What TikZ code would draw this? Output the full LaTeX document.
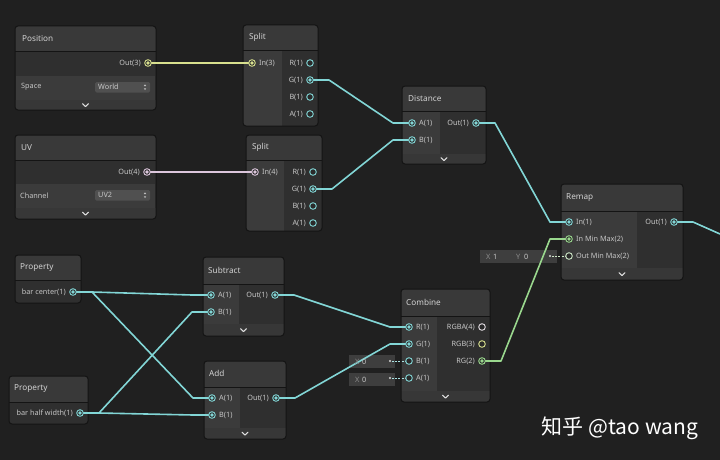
\documentclass[tikz,border=0pt]{standalone}
\usepackage{fontspec}
\setmainfont{Noto Sans}
\newfontfamily\cjkfont{Noto Sans CJK SC}
\usetikzlibrary{fit}
\pgfdeclarelayer{bg}
\pgfdeclarelayer{wire}
\pgfsetlayers{bg,wire,main}
\definecolor{bgc}{HTML}{202020}
\definecolor{hdr}{HTML}{393939}
\definecolor{inar}{HTML}{3B3B3B}
\definecolor{outar}{HTML}{2F2F2F}
\definecolor{chevc}{HTML}{373737}
\definecolor{edge}{HTML}{141414}
\definecolor{txt}{HTML}{C6C6C6}
\definecolor{ttlc}{HTML}{D2D2D2}
\definecolor{portbg}{HTML}{2A2A2A}
\definecolor{fldc}{HTML}{3E3E3E}
\definecolor{ddc}{HTML}{505050}
\definecolor{wteal}{HTML}{82D6D6}
\definecolor{wyel}{HTML}{D8E08E}
\definecolor{wpink}{HTML}{DCC6DC}
\definecolor{wgreen}{HTML}{9AD88E}
\definecolor{pwhite}{HTML}{E2DCE2}
\definecolor{pgw}{HTML}{CDE6C6}
\tikzset{
  lbl/.style={text=txt, font=\fontsize{7.3}{8}\selectfont, inner sep=0},
  ttl/.style={text=ttlc, font=\fontsize{8.2}{9}\selectfont, inner sep=0, anchor=west},
  port/.style={circle, draw=#1, fill=portbg, line width=0.9pt, minimum size=6.6pt, inner sep=0},
  full/.style={path picture={\fill[#1] (path picture bounding box.center) circle (1.8pt);}},
  hollow/.style={},
  wire/.style={draw=#1, line width=1.6pt, line join=round},
  sg/.style={to path={-- ++(19,0) -- ([xshift=-19pt]\tikztotarget) -- (\tikztotarget)}},
  chevline/.style={draw=white!88!black, line width=1.1pt, line cap=round, line join=round},
}
\newcommand{\sgnode}[8]{%
  \begin{pgfonlayer}{bg}
    \begin{scope}
      \clip[rounded corners=3pt] (#2,#3) rectangle (#4,#5);
      \fill[hdr] (#2,#3) rectangle (#4,#6);
      \fill[inar] (#2,#6) rectangle (#7,#8);
      \fill[outar] (#7,#6) rectangle (#4,#8);
      \fill[chevc] (#2,#8) rectangle (#4,#5);
      \draw[edge, line width=0.6pt] (#2,#6) -- (#4,#6);
    \end{scope}
    \node[draw=edge, line width=1pt, rounded corners=3pt, inner sep=0, fit={(#2,#3) (#4,#5)}] (#1) {};
  \end{pgfonlayer}}
\newcommand{\rowfill}[4]{\begin{pgfonlayer}{bg}\fill[inar] (#1,#2) rectangle (#3,#4);\end{pgfonlayer}}
\newcommand{\chev}[2]{\draw[chevline] (#1-3,#2-1.3) -- (#1,#2+1.5) -- (#1+3,#2-1.3);}
\newcommand{\ip}[6]{\node[port=#4, #5=#4] (#1) at (#2,#3) {}; \node[lbl, anchor=west] (#1-l) at (#2+7,#3) {#6};}
\newcommand{\op}[6]{\node[port=#4, #5=#4] (#1) at (#2,#3) {}; \node[lbl, anchor=east] (#1-l) at (#2-7,#3) {#6};}
\newcommand{\ddarrows}[2]{\fill[txt] (#1-1.2,#2-1.2) -- (#1+1.2,#2-1.2) -- (#1,#2-2.8) -- cycle; \fill[txt] (#1-1.2,#2+1.2) -- (#1+1.2,#2+1.2) -- (#1,#2+2.8) -- cycle;}
\begin{document}
\begin{tikzpicture}[x=1pt, y=-1pt]
\begin{pgfonlayer}{bg}
  \fill[bgc] (0,0) rectangle (720,460);
\end{pgfonlayer}
\useasboundingbox (0,0) rectangle (720,460);

% ---------- Position ----------
\sgnode{pos}{15}{26}{156}{110}{51}{15}{100}
\rowfill{15.6}{76}{155.4}{100}
\node[ttl] (posT) at (22,38.5) {Position};
\op{posOut}{148}{63}{wyel}{full}{Out(3)}
\node[lbl, anchor=west] (posSp) at (21,87) {Space};
\begin{pgfonlayer}{bg}\fill[ddc, rounded corners=1.5pt] (95,82) rectangle (150,92.5);\end{pgfonlayer}
\node[lbl, anchor=west] (posDd) at (98,87.2) {World};
\ddarrows{145}{87.2}
\chev{85.5}{105}

% ---------- UV ----------
\sgnode{uv}{15}{135}{156}{219}{160}{15}{208}
\rowfill{15.6}{184}{155.4}{208}
\node[ttl] (uvT) at (21,147.5) {UV};
\op{uvOut}{147}{172}{wpink}{full}{Out(4)}
\node[lbl, anchor=west] (uvCh) at (20,195.5) {Channel};
\begin{pgfonlayer}{bg}\fill[ddc, rounded corners=1.5pt] (95,190) rectangle (150,200.5);\end{pgfonlayer}
\node[lbl, anchor=west] (uvDd) at (98,195.2) {UV2};
\ddarrows{145}{195.2}
\chev{85.5}{213.5}

% ---------- Split 1 ----------
\sgnode{spa}{243}{25}{318}{126}{50}{282}{126}
\node[ttl] (spaT) at (249,37.5) {Split};
\ip{spaIn}{252}{63}{wyel}{full}{In(3)}
\op{spaR}{310}{63}{wteal}{hollow}{R(1)}
\op{spaG}{310}{80}{wteal}{full}{G(1)}
\op{spaB}{310}{97}{wteal}{hollow}{B(1)}
\op{spaA}{310}{114}{wteal}{hollow}{A(1)}

% ---------- Split 2 ----------
\sgnode{spb}{246}{135}{322}{231}{160}{284}{231}
\node[ttl] (spbT) at (252,147.5) {Split};
\ip{spbIn}{255}{172}{wpink}{full}{In(4)}
\op{spbR}{313}{172}{wteal}{hollow}{R(1)}
\op{spbG}{313}{189}{wteal}{full}{G(1)}
\op{spbB}{313}{206}{wteal}{hollow}{B(1)}
\op{spbA}{313}{223}{wteal}{hollow}{A(1)}

% ---------- Distance ----------
\sgnode{dist}{402}{86}{486}{164}{111}{440}{154}
\node[ttl] (distT) at (408,98.5) {Distance};
\ip{distA}{412}{123}{wteal}{full}{A(1)}
\ip{distB}{412}{140}{wteal}{full}{B(1)}
\op{distOut}{476}{123}{wteal}{full}{Out(1)}
\chev{444}{159}

% ---------- Remap ----------
\sgnode{rmp}{561}{184}{683}{280}{211}{637}{268}
\node[ttl] (rmpT) at (566,197.5) {Remap};
\ip{rmpIn}{569}{222}{wteal}{full}{In(1)}
\ip{rmpIMM}{569}{239}{wgreen}{full}{In Min Max(2)}
\ip{rmpOMM}{569}{256}{pgw}{hollow}{Out Min Max(2)}
\op{rmpOut}{674}{222}{wteal}{full}{Out(1)}
\chev{622}{274}
\begin{pgfonlayer}{bg}\fill[fldc] (480,250) rectangle (557,263);\end{pgfonlayer}
\node[lbl, text=txt!70!black, anchor=west] (rfX) at (486,256.5) {X};
\node[lbl, anchor=west] (rf1) at (493,256.5) {1};
\node[lbl, text=txt!70!black, anchor=west] (rfY) at (516,256.5) {Y};
\node[lbl, anchor=west] (rf0) at (524,256.5) {0};
\coordinate (rfDot) at (550,256);
\fill[white!85!black] (rfDot) circle (1.2pt);
\begin{pgfonlayer}{wire}
  \draw[pgw, line width=0.8pt, dash pattern=on 2pt off 1.2pt] ([xshift=2pt]rfDot) -- (rmpOMM.west);
\end{pgfonlayer}
\coordinate (offR) at (720,234);

% ---------- Property 1 ----------
\sgnode{pr1}{15}{255}{81}{303}{280}{15}{303}
\node[ttl] (pr1T) at (20,267.5) {Property};
\op{pr1Out}{73}{292}{wteal}{full}{bar center(1)}

% ---------- Property 2 ----------
\sgnode{pr2}{9}{376}{88}{424}{402}{9}{424}
\node[ttl] (pr2T) at (14,389) {Property};
\op{pr2Out}{80}{413}{wteal}{full}{bar half width(1)}

% ---------- Subtract ----------
\sgnode{sub}{203}{257}{284}{336}{284}{239}{324}
\node[ttl] (subT) at (208,270.5) {Subtract};
\ip{subA}{211}{295}{wteal}{full}{A(1)}
\ip{subB}{211}{312}{wteal}{full}{B(1)}
\op{subOut}{275}{295}{wteal}{full}{Out(1)}
\chev{243.5}{330}

% ---------- Add ----------
\sgnode{add}{204}{361}{286}{439}{387}{240}{428}
\node[ttl] (addT) at (209,373.5) {Add};
\ip{addA}{212}{398}{wteal}{full}{A(1)}
\ip{addB}{212}{415}{wteal}{full}{B(1)}
\op{addOut}{276}{398}{wteal}{full}{Out(1)}
\chev{245}{433.5}

% ---------- Combine ----------
\sgnode{cmb}{401}{289}{490}{402}{316}{437}{391}
\node[ttl] (cmbT) at (406,302) {Combine};
\ip{cmbR}{409}{327}{wteal}{full}{R(1)}
\ip{cmbG}{409}{344}{wteal}{full}{G(1)}
\ip{cmbB}{409}{361}{wteal}{hollow}{B(1)}
\ip{cmbA}{409}{378}{wteal}{hollow}{A(1)}
\op{cmbRGBA}{482}{327}{pwhite}{hollow}{RGBA(4)}
\op{cmbRGB}{482}{344}{wyel}{hollow}{RGB(3)}
\op{cmbRG}{482}{361}{wgreen}{full}{RG(2)}
\chev{445.5}{396.5}
\begin{pgfonlayer}{bg}
  \fill[fldc] (349,355) rectangle (395,368);
  \fill[fldc] (349,373) rectangle (395,386);
\end{pgfonlayer}
\node[lbl, text=txt!70!black, anchor=west] (cfX1) at (355,361.5) {X};
\node[lbl, anchor=west] (cf01) at (362,361.5) {0};
\node[lbl, text=txt!70!black, anchor=west] (cfX2) at (355,379.5) {X};
\node[lbl, anchor=west] (cf02) at (362,379.5) {0};
\coordinate (cfDot1) at (390,361);
\coordinate (cfDot2) at (390,378);
\fill[white!85!black] (cfDot1) circle (1.2pt);
\fill[white!85!black] (cfDot2) circle (1.2pt);
\begin{pgfonlayer}{wire}
  \draw[wteal!70!white, line width=0.8pt, dash pattern=on 2pt off 1.2pt] ([xshift=2pt]cfDot1) -- (cmbB.west);
  \draw[wteal!70!white, line width=0.8pt, dash pattern=on 2pt off 1.2pt] ([xshift=2pt]cfDot2) -- (cmbA.west);
\end{pgfonlayer}

% ---------- Wires ----------
\begin{pgfonlayer}{wire}
  \draw[wire=wyel] (posOut.center) -- (spaIn.center);
  \draw[wire=wpink] (uvOut.center) -- (spbIn.center);
  \draw[wire=wteal] (spaG.center) to[sg] (distA.center);
  \draw[wire=wteal] (spbG.center) to[sg] (distB.center);
  \draw[wire=wteal] (distOut.center) to[sg] (rmpIn.center);
  \draw[wire=wgreen] (cmbRG.center) to[sg] (rmpIMM.center);
  \draw[wire=wteal] (rmpOut.center) -- ++(19,0) -- (offR);
  \draw[wire=wteal] (pr1Out.center) to[sg] (subA.center);
  \draw[wire=wteal] (pr1Out.center) to[sg] (addA.center);
  \draw[wire=wteal] (pr2Out.center) to[sg] (subB.center);
  \draw[wire=wteal] (pr2Out.center) to[sg] (addB.center);
  \draw[wire=wteal] (subOut.center) to[sg] (cmbR.center);
  \draw[wire=wteal] (addOut.center) to[sg] (cmbG.center);
\end{pgfonlayer}

% ---------- Watermark ----------
\node[text=white, font=\cjkfont\fontsize{21}{24}\selectfont, inner sep=0] (wm) at (620,428) {知乎 @tao wang};
\end{tikzpicture}
\end{document}
